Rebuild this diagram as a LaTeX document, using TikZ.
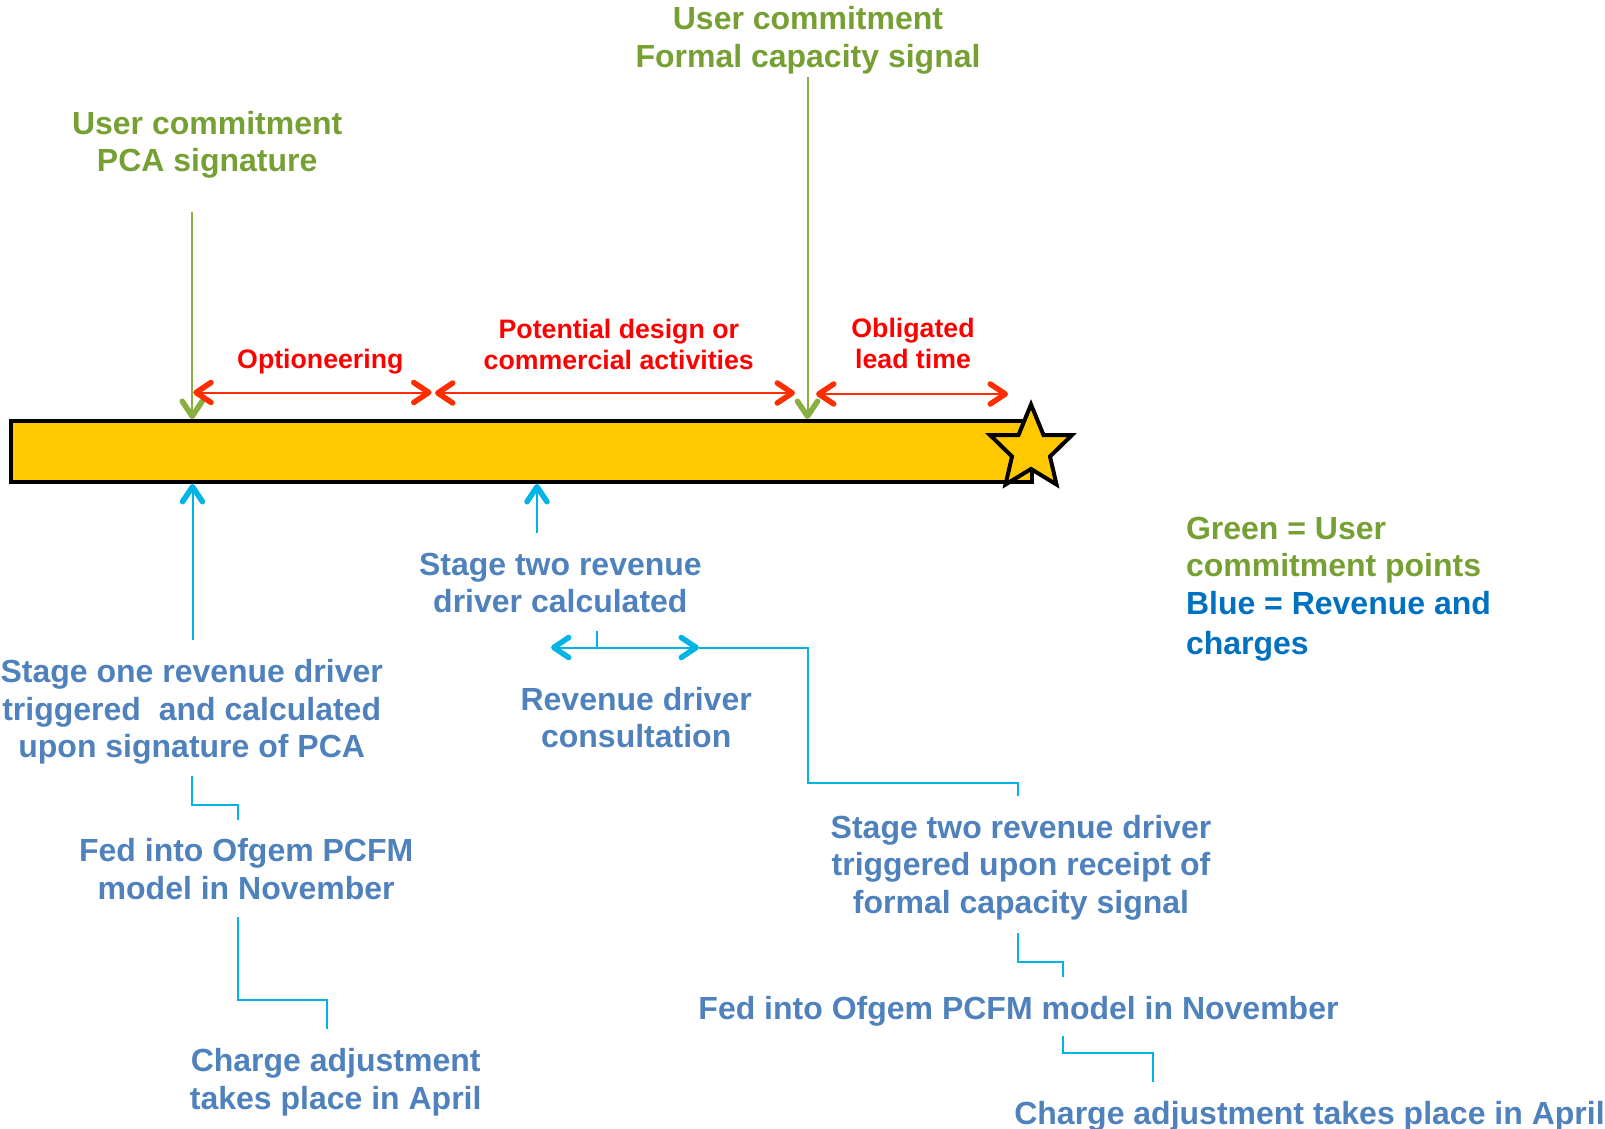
\documentclass[tikz,border=0pt]{standalone}
\usepackage{fontspec}
\setmainfont{Liberation Sans}
\usetikzlibrary{arrows.meta,calc}

\definecolor{barfill}{RGB}{255,200,0}
\definecolor{ucgreen}{RGB}{119,160,52}
\definecolor{ucline}{RGB}{137,175,64}
\definecolor{actred}{RGB}{255,0,0}
\definecolor{actline}{RGB}{255,45,0}
\definecolor{revblue}{RGB}{79,129,189}
\definecolor{revline}{RGB}{0,180,230}
\definecolor{keyblue}{RGB}{0,112,192}

\tikzset{
  vbarb/.tip={Straight Barb[length=15pt,width=20pt,line width=5.5pt,round]},
  lbl/.style={font=\bfseries\fontsize{32}{37.4}\selectfont, align=center,
    inner sep=0pt, outer sep=0pt},
  actlbl/.style={font=\bfseries\fontsize{26.7}{31}\selectfont, align=center,
    inner sep=0pt, outer sep=0pt, text=actred},
  uclbl/.style={lbl, text=ucgreen},
  revlbl/.style={lbl, text=revblue},
  ucarrow/.style={draw=ucline, line width=2pt, -vbarb},
  actarrow/.style={draw=actline, line width=2pt, vbarb-vbarb},
  revarrow/.style={draw=revline, line width=2pt, -vbarb},
  link/.style={draw=revline, line width=2pt},
}

\begin{document}
\begin{tikzpicture}[x=1pt,y=-1pt]
\useasboundingbox (0,0) rectangle (1605,1128);

% timeline bar and end star
\node[draw=black, fill=barfill, line width=4pt, minimum width=1021pt,
      minimum height=61pt, inner sep=0pt] (bar) at (521.5,451.5) {};
\draw[fill=barfill, line width=4pt, line join=miter]
  (1031,404.5) -- (1043.5,435) -- (1072,435) -- (1050,456.5) -- (1056.5,484.5)
  -- (1031,469) -- (1005.5,484.5) -- (1012,456.5) -- (990,435) -- (1018.5,435) -- cycle;

% user commitment points
\node[uclbl] (pca) at (207.2,145.5) {\strut User commitment\\\strut PCA signature};
\node[uclbl] (fcs) at (808,40.9) {\strut User commitment\\\strut Formal capacity signal};
\draw[ucarrow] ($(pca.south)+(-15,28.8)$) coordinate (g1) -- (g1 |- bar.north);
\draw[ucarrow] ($(fcs.south)+(-0.5,-1.2)$) coordinate (g2) -- (g2 |- bar.north);

% activity periods
\node[actlbl] (opt) at (320.3,362.1) {\strut Optioneering};
\node[actlbl] (pdc) at (618.8,347.3) {\strut Potential design or\\\strut commercial activities};
\node[actlbl] (olt) at (913,346.3) {\strut Obligated\\\strut lead time};
\coordinate (optL) at (193.3,392.5);
\coordinate (optR) at (431.5,392.5);
\coordinate (pdcL) at (435,393);
\coordinate (pdcR) at (795,393);
\coordinate (oltL) at (816,394);
\coordinate (oltR) at (1008,394);
\draw[actarrow] (optL) -- (optR);
\draw[actarrow] (pdcL) -- (pdcR);
\draw[actarrow] (oltL) -- (oltR);

% revenue driver steps
\node[revlbl] (s2calc) at (560.4,586.5) {\strut Stage two revenue\\\strut driver calculated};
\node[revlbl] (cons) at (636.2,721.5) {\strut Revenue driver\\\strut consultation};
\node[revlbl] (s1) at (191.7,712.6)
  {\strut Stage one revenue driver\\\strut triggered~ and calculated\\\strut upon signature of PCA};
\node[revlbl] (s1pcfm) at (246.2,873.1) {\strut Fed into Ofgem PCFM\\\strut model in November};
\node[revlbl] (s1apr) at (335.7,1083) {\strut Charge adjustment\\\strut takes place in April};
\node[revlbl] (s2trig) at (1021,868.2)
  {\strut Stage two revenue driver\\\strut triggered upon receipt of\\\strut formal capacity signal};
\node[revlbl] (s2pcfm) at (1018.5,1011.8) {\strut Fed into Ofgem PCFM model in November};
\node[revlbl] (s2apr) at (1309.5,1116.5) {\strut Charge adjustment takes place in April};

\draw[revarrow] ($(s1.north)+(0.8,-16.4)$) coordinate (u1) -- (u1 |- bar.south);
\draw[revarrow] ($(s2calc.north)+(-23.4,-15.9)$) coordinate (u2) -- (u2 |- bar.south);

\coordinate (consL) at (551,647.5);
\coordinate (consR) at (699,647.5);
\coordinate (elb) at (807.5,782.7);
\draw[link] ($(s2calc.south)+(36.6,6.8)$) coordinate (tk) -- (tk |- consL);
\draw[link, vbarb-vbarb] (consL) -- (consR);
\draw[link] (consR) -| (elb) -| ($(s2trig.north)+(-3.3,-16.4)$);

\draw[link] ($(s1.south)+(0.6,6.9)$) -- ++(0,29.3) -| ($(s1pcfm.north)+(-8.5,-15.8)$);
\draw[link] ($(s1pcfm.south)+(-8.5,6.1)$) -- ++(0,83.3) -| ($(s1apr.north)+(-8.4,-16.7)$);
\draw[link] ($(s2trig.south)+(-3.3,8.6)$) -- ++(0,29) -| ($(s2pcfm.north)+(44.2,-16.5)$);
\draw[link] ($(s2pcfm.south)+(44.2,5.4)$) -- ++(0,16.7) -| ($(s2apr.north)+(-156.2,-16.2)$);

% colour key
\node[lbl, align=left, anchor=west, text=ucgreen] (keyg) at (1186,550.5)
  {\strut Green = User\\\strut commitment points};
\node[lbl, align=left, anchor=west, text=keyblue,
      font=\bfseries\fontsize{32}{40}\selectfont] (keyb) at (1186,626.3)
  {\strut Blue = Revenue and\\\strut charges};
\end{tikzpicture}
\end{document}
